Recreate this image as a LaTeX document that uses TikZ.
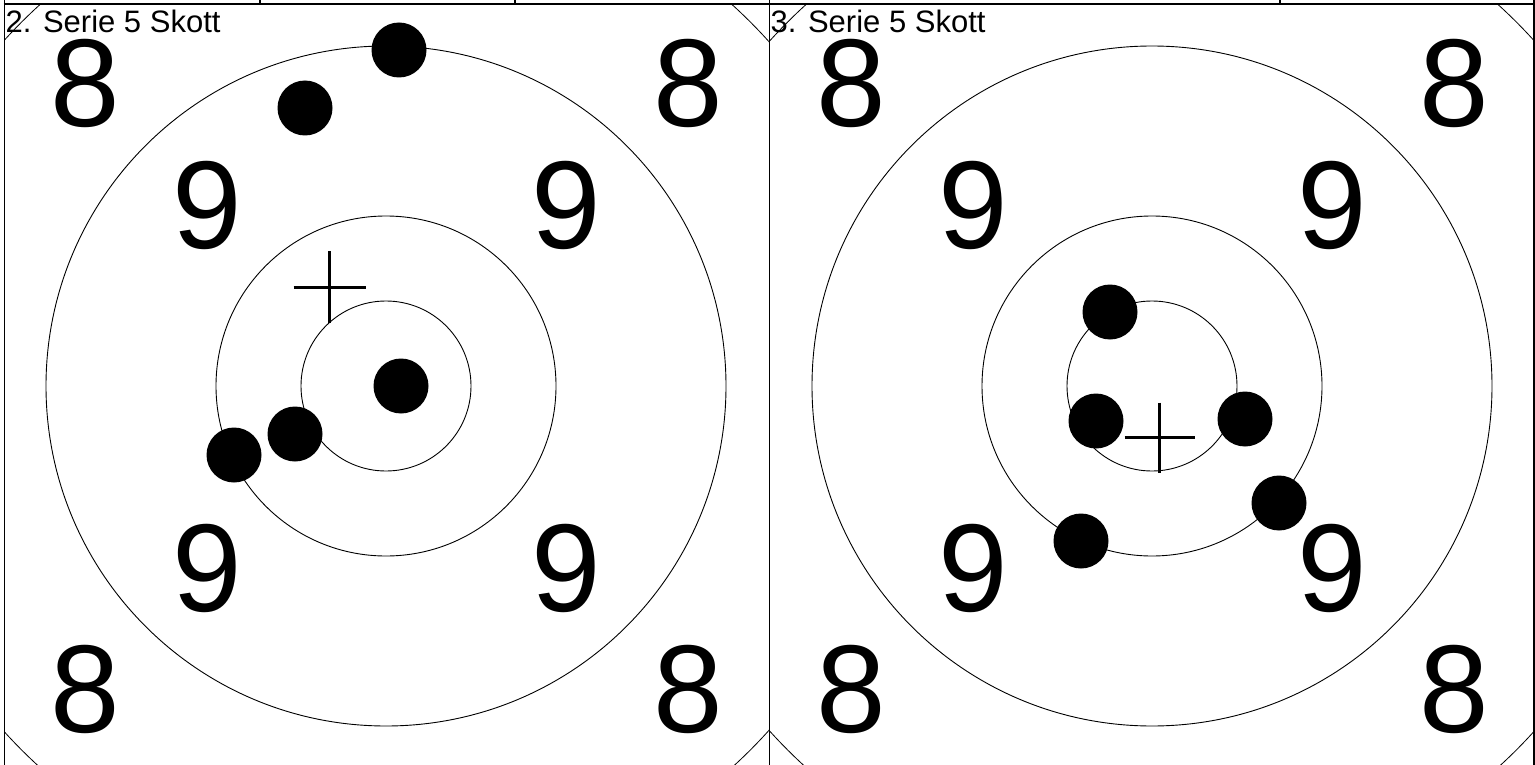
\documentclass[tikz,border=0pt]{standalone}
\usepackage{fontspec}
\setmainfont{Liberation Sans}
\begin{document}
\begin{tikzpicture}[x=1pt,y=-1pt,
  ringline/.style={line width=0.9pt},
  cornerarc/.style={line width=0.8pt},
  border/.style={line width=1.4pt},
  topline/.style={line width=1.8pt},
  shot/.style={circle,fill=black,inner sep=0pt,minimum size=55pt},
  bignum/.style={inner sep=0pt,font=\fontsize{125}{125}\selectfont},
  title/.style={inner sep=0pt,anchor=base west,font=\fontsize{31}{31}\selectfont},
  crossline/.style={line width=3pt}]
\useasboundingbox (0,0) rectangle (1535,765);

% table remnants at top
\draw[topline] (3.5,4) -- (1534.5,4);
\foreach \xx in {4.5,260,515,769.5,1280,1534}{\draw[border] (\xx,0) -- (\xx,4);}

% panel borders
\draw[border] (4.5,4) -- (4.5,765);
\draw[border] (769.5,4) -- (769.5,765);
\draw[border] (1534,4) -- (1534,765);

% ---------- panel 2 ----------
\coordinate (cL) at (386,386);
\begin{scope}
  \clip (4.5,4) rectangle (769.5,800);
  \draw[cornerarc] (cL) circle[radius=515pt];
\end{scope}
\draw[ringline] (cL) circle[radius=340pt];
\draw[ringline] (cL) circle[radius=170pt];
\draw[ringline] (cL) circle[radius=85pt];

\node[title] (tL) at (5.5,33) {2. Serie 5 Skott};
\node[bignum] (l8a) at (85,83) {8};
\node[bignum] (l8b) at (688,83) {8};
\node[bignum] (l8c) at (85,689) {8};
\node[bignum] (l8d) at (688,689) {8};
\node[bignum] (l9a) at (207,205) {9};
\node[bignum] (l9b) at (566,205) {9};
\node[bignum] (l9c) at (207,568) {9};
\node[bignum] (l9d) at (566,568) {9};

\coordinate (xL) at (329.5,287);
\draw[crossline] (xL) +(-36,0) -- +(36,0) +(0,-36) -- +(0,36);

\node[shot] (s2a) at (399,50) {};
\node[shot] (s2b) at (305,108) {};
\node[shot] (s2c) at (401,386) {};
\node[shot] (s2d) at (295,434) {};
\node[shot] (s2e) at (234,455) {};

% ---------- panel 3 ----------
\coordinate (cR) at (1152,386);
\begin{scope}
  \clip (769.5,4) rectangle (1534,800);
  \draw[cornerarc] (cR) circle[radius=515pt];
\end{scope}
\draw[ringline] (cR) circle[radius=340pt];
\draw[ringline] (cR) circle[radius=170pt];
\draw[ringline] (cR) circle[radius=85pt];

\node[title] (tR) at (770.5,33) {3. Serie 5 Skott};
\node[bignum] (r8a) at (851,83) {8};
\node[bignum] (r8b) at (1454,83) {8};
\node[bignum] (r8c) at (851,689) {8};
\node[bignum] (r8d) at (1454,689) {8};
\node[bignum] (r9a) at (973,205) {9};
\node[bignum] (r9b) at (1332,205) {9};
\node[bignum] (r9c) at (973,568) {9};
\node[bignum] (r9d) at (1332,568) {9};

\coordinate (xR) at (1159.5,437.5);
\draw[crossline] (xR) +(-35,0) -- +(35,0) +(0,-35) -- +(0,35);

\node[shot] (s3a) at (1110,312) {};
\node[shot] (s3b) at (1096,421) {};
\node[shot] (s3c) at (1245,419) {};
\node[shot] (s3d) at (1279,503) {};
\node[shot] (s3e) at (1081,541) {};
\end{tikzpicture}
\end{document}
